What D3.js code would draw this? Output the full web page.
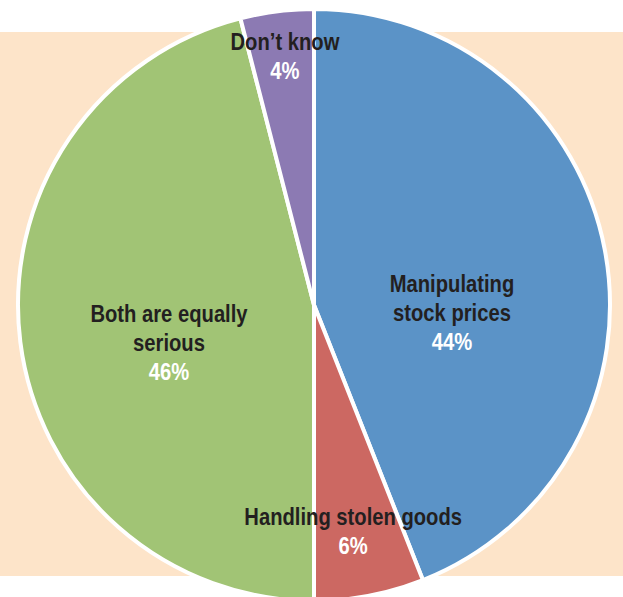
<!DOCTYPE html>
<html>
<head>
<meta charset="utf-8">
<script src="https://cdn.jsdelivr.net/npm/d3@7"></script>
<style>
  html, body { margin: 0; padding: 0; background: #ffffff; }
  svg { display: block; }
</style>
</head>
<body>
<svg id="chart" width="623" height="597"></svg>
<script>
// ---- data ----
const categories = ["Manipulating stock prices", "Handling stolen goods", "Both are equally serious", "Don\u2019t know"];
const labelLines = [["Manipulating", "stock prices"], ["Handling stolen goods"], ["Both are equally", "serious"], ["Don\u2019t know"]];
const values = [44, 6, 46, 4];
const colors = ["#5B93C7", "#CC6862", "#A1C475", "#8C7AB3"];

// ---- layout (first-baseline position of each label, polar around the centre) ----
const labelR = [138.6, 223.4, 146, 256.6];
const labelDeg = [84.6, 169.9, 263.3, 353.5];

const W = 623, H = 597;
const cx = 314, cy = 305, R = 296;
const svg = d3.select("#chart");

svg.append("rect")
  .attr("x", 0).attr("y", 32)
  .attr("width", W).attr("height", 544)
  .attr("fill", "#FDE4C9");

const pie = d3.pie().sort(null).value(d => d);
const arcs = pie(values);
const arc = d3.arc().innerRadius(0).outerRadius(R);

const g = svg.append("g").attr("transform", `translate(${cx},${cy})`);
g.selectAll("path")
  .data(arcs)
  .join("path")
  .attr("d", arc)
  .attr("fill", (d, i) => colors[i])
  .attr("stroke", "#ffffff")
  .attr("stroke-width", 4)
  .attr("stroke-linejoin", "round");

const fontFamily = "'Liberation Sans', Arial, sans-serif";
const lineH = 29;

arcs.forEach((d, i) => {
  const a = labelDeg[i] * Math.PI / 180;
  const x = Math.sin(a) * labelR[i];
  const y = -Math.cos(a) * labelR[i];
  const lines = labelLines[i];
  const lg = g.append("g").attr("transform", `translate(${x},${y}) scale(0.86,1)`);
  lines.forEach((t, k) => {
    lg.append("text")
      .attr("x", 0).attr("y", k * lineH)
      .attr("text-anchor", "middle")
      .attr("font-family", fontFamily)
      .attr("font-size", 23.5)
      .attr("font-weight", "bold")
      .attr("fill", "#231F20")
      .text(t);
  });
  lg.append("text")
    .attr("x", 0).attr("y", lines.length * lineH)
    .attr("text-anchor", "middle")
    .attr("font-family", fontFamily)
    .attr("font-size", 23.5)
    .attr("font-weight", "bold")
    .attr("fill", "#ffffff")
    .text(values[i] + "%");
});
</script>
</body>
</html>
